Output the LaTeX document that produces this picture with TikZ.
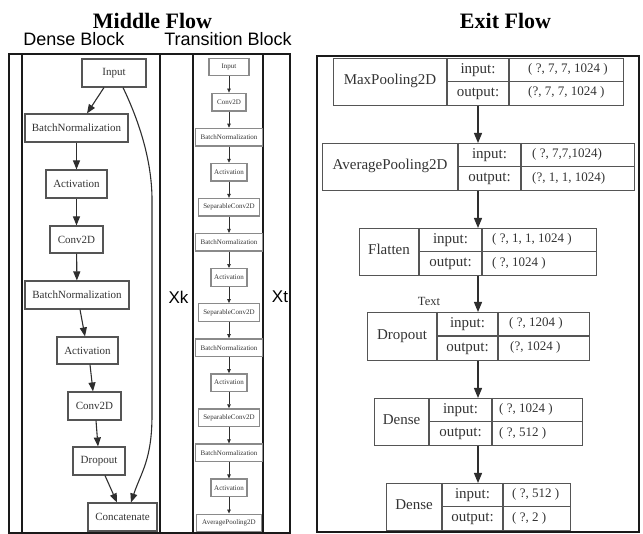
\documentclass[tikz,border=0pt]{standalone}
\usepackage{fontspec}
\setmainfont{Liberation Serif}
\newfontfamily\labelsans{Liberation Sans}
\usetikzlibrary{arrows.meta}

\definecolor{framec}{HTML}{1A1A1A}
\definecolor{boxc}{HTML}{555555}
\definecolor{lightbox}{HTML}{8A8A8A}
\definecolor{inkc}{HTML}{333333}
\definecolor{edgec}{HTML}{2E2E2E}

\tikzset{
  outerframe/.style={draw=framec, line width=1.8pt},
  innerframe/.style={draw=framec, line width=1.3pt},
  denseop/.style={draw=boxc, line width=1.1pt, text=inkc, font=\fontsize{11}{13}\selectfont,
    minimum height=28pt, inner sep=0pt},
  transop/.style={draw=lightbox, line width=1.4pt, text=inkc, font=\fontsize{7}{8}\selectfont,
    minimum height=17.5pt, inner sep=0pt},
  denseflow/.style={draw=edgec, line width=1.1pt, -{Triangle[length=9pt,width=7pt]}},
  transflow/.style={draw=edgec, line width=0.7pt, -{Triangle[length=4pt,width=3.5pt]}},
  exitflow/.style={draw=edgec, line width=1.2pt, -{Triangle[length=10pt,width=8pt]}},
  recbox/.style={draw=boxc, line width=1.1pt, inner sep=0pt},
  recline/.style={draw=boxc, line width=1.1pt},
  rectext/.style={text=inkc, font=\fontsize{15}{17}\selectfont, inner sep=0pt,
    text height=10pt, text depth=3pt},
  recval/.style={text=inkc, font=\fontsize{13}{15}\selectfont, inner sep=0pt,
    text height=9pt, text depth=3pt, anchor=west},
  heading/.style={font=\fontsize{22}{26}\selectfont\bfseries, inner sep=0pt, anchor=base},
  subheading/.style={font=\labelsans\fontsize{18}{21}\selectfont, inner sep=0pt, anchor=base},
  sidelabel/.style={font=\labelsans\fontsize{17}{20}\selectfont, inner sep=0pt},
  smallnote/.style={text=inkc, font=\fontsize{12.5}{15}\selectfont, inner sep=0pt},
}

% record-shaped layer: name, left, divider 1, divider 2, right, top, bottom, layer name
\newcommand\recnode[8]{%
  \node[recbox, anchor=north west, minimum width={(#5-#2)*1pt},
        minimum height={(#7-#6)*1pt}] (#1) at (#2,#6) {};
  \draw[recline] (#3,#6) -- (#3,#7) (#4,#6) -- (#4,#7)
                 (#3,{(#6+#7)/2}) -- (#5,{(#6+#7)/2});
  \node[rectext] (#1-name) at ({(#2+#3)/2},{(#6+#7)/2}) {#8};
  \node[rectext] (#1-inlab) at ({(#3+#4)/2},{(3*#6+#7)/4}) {input:};
  \node[rectext] (#1-outlab) at ({(#3+#4)/2},{(#6+3*#7)/4}) {output:};
}

\begin{document}
\begin{tikzpicture}[x=1pt,y=-1pt]
\useasboundingbox (0,0) rectangle (643,534);

% ---------- titles ----------
\node[heading] (midtitle) at (152.5,29) {Middle Flow};
\node[heading] (exittitle) at (505.5,29) {Exit Flow};
\node[subheading] (densetitle) at (74,46) {Dense Block};
\node[subheading] (transtitle) at (228,46) {Transition Block};

% ---------- middle flow frames ----------
\draw[outerframe] (9,54) rectangle (290,533);
\draw[innerframe] (22,54) rectangle (160,533);
\draw[innerframe] (193,54) rectangle (263,533);

\node[sidelabel] (xk) at (178.5,297) {Xk};
\node[sidelabel] (xt) at (280,297) {Xt};

% ---------- dense block ----------
\node[denseop, minimum width=64pt] (din) at (114,73) {Input};
\node[denseop, minimum width=103pt] (dbn1) at (76.5,128) {BatchNormalization};
\node[denseop, minimum width=61pt] (dact1) at (76.5,184) {Activation};
\node[denseop, minimum width=53pt, minimum height=27pt] (dconv1) at (76.5,239.5) {Conv2D};
\node[denseop, minimum width=104pt] (dbn2) at (77,295) {BatchNormalization};
\node[denseop, minimum width=61pt, minimum height=27pt] (dact2) at (87.5,350.5) {Activation};
\node[denseop, minimum width=53pt] (dconv2) at (94.5,406) {Conv2D};
\node[denseop, minimum width=52pt] (ddrop) at (99,461) {Dropout};
\node[denseop, minimum width=69pt] (dcat) at (122.5,517) {Concatenate};

\draw[denseflow] ([xshift=-10pt]din.south) -- ([xshift=10.5pt]dbn1.north);
\draw[denseflow] (dbn1) -- (dact1);
\draw[denseflow] (dact1) -- (dconv1);
\draw[denseflow] (dconv1) -- (dbn2);
\draw[denseflow] ([xshift=3pt]dbn2.south) -- ([xshift=-2.5pt]dact2.north);
\draw[denseflow] ([xshift=2.5pt]dact2.south) -- ([xshift=-1.5pt]dconv2.north);
\draw[denseflow] ([xshift=1.5pt]dconv2.south) -- ([xshift=-1pt]ddrop.north);
\draw[denseflow] ([xshift=6pt]ddrop.south) -- ([xshift=-5.5pt]dcat.north);
% skip connection from the block input to the concatenation
\draw[denseflow] ([xshift=9pt]din.south)
  .. controls +(12,25) and +(0,-45) .. (152,200)
  -- (152,415)
  .. controls +(0,45) and +(10,-30) .. ([xshift=8.5pt]dcat.north);

% ---------- transition block ----------
\foreach \lab/\w [count=\k from 0] in {Input/40, Conv2D/34, BatchNormalization/67,
    Activation/36, SeparableConv2D/61, BatchNormalization/67, Activation/36,
    SeparableConv2D/61, BatchNormalization/67, Activation/36, SeparableConv2D/61,
    BatchNormalization/67, Activation/36, AveragePooling2D/65}
  \node[transop, minimum width=\w pt] (t\k) at (229,{67+35.077*\k}) {\lab};
\foreach \k in {0,...,12} {
  \pgfmathtruncatemacro\nxt{\k+1}
  \draw[transflow] (t\k) -- (t\nxt);
}

% ---------- exit flow ----------
\draw[outerframe] (317,56) rectangle (639,532);

\recnode{mp}{333}{447}{509}{623}{58}{105}{MaxPooling2D}
\node[recval] (mp-in) at (528,69.5) {( ?, 7, 7, 1024 )};
\node[recval] (mp-out) at (528,93) {(?, 7, 7, 1024 )};

\recnode{ap}{322}{458}{521}{634}{143}{190}{AveragePooling2D}
\node[recval] (ap-in) at (532,155) {( ?, 7,7,1024)};
\node[recval] (ap-out) at (532,178.5) {(?, 1, 1, 1024)};

\recnode{fl}{359}{419}{482}{596}{228}{275}{Flatten}
\node[recval] (fl-in) at (492,240) {( ?, 1, 1, 1024 )};
\node[recval] (fl-out) at (492,263.5) {( ?, 1024 )};

\node[smallnote] (note) at (429,301) {Text};

\recnode{dr}{367}{437}{498}{589}{312}{360}{Dropout}
\node[recval] (dr-in) at (509,324) {( ?, 1204 )};
\node[recval] (dr-out) at (510,348) {(?, 1024 )};

\recnode{de}{374}{429}{492}{582}{398}{445}{Dense}
\node[recval] (de-in) at (499,410) {( ?, 1024 )};
\node[recval] (de-out) at (499,433.5) {( ?, 512 )};

\recnode{dz}{386}{442}{503}{570}{483}{530}{Dense}
\node[recval] (dz-in) at (512,495) {( ?, 512 )};
\node[recval] (dz-out) at (512,518.5) {( ?, 2 )};

\coordinate (spine) at (478,0);
\draw[exitflow] (spine |- mp.south) -- (spine |- ap.north);
\draw[exitflow] (spine |- ap.south) -- (spine |- fl.north);
\draw[exitflow] (spine |- fl.south) -- (spine |- dr.north);
\draw[exitflow] (spine |- dr.south) -- (spine |- de.north);
\draw[exitflow] (spine |- de.south) -- (spine |- dz.north);
\end{tikzpicture}
\end{document}
